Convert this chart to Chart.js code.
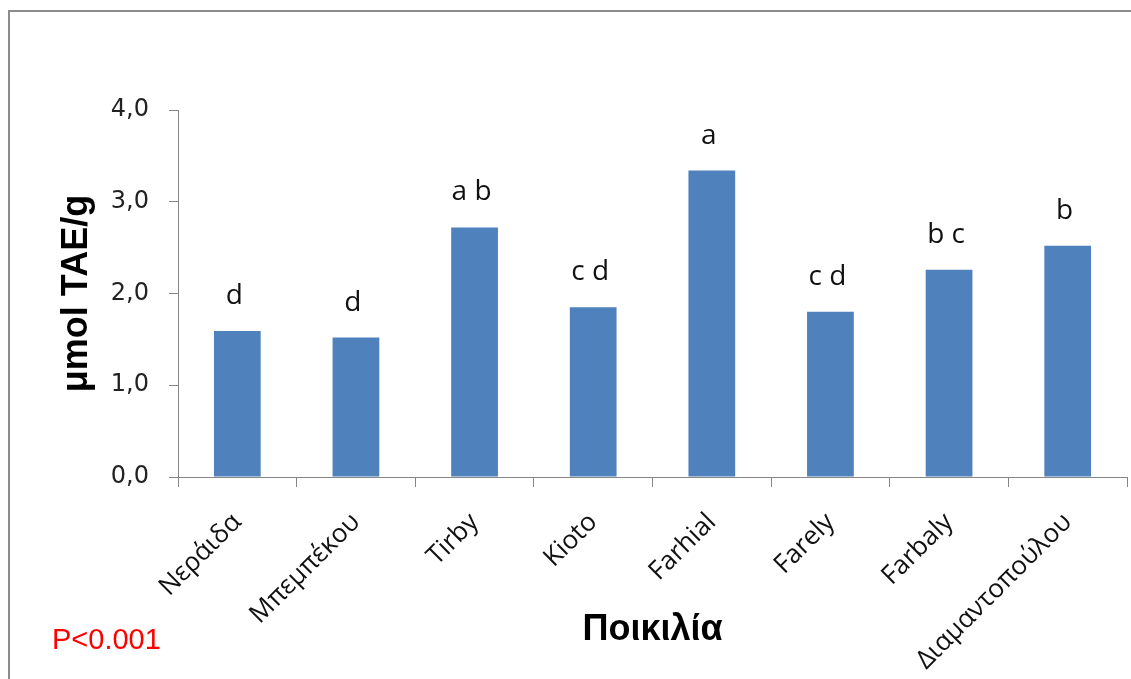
<!DOCTYPE html>
<html>
<head>
<meta charset="utf-8">
<script src="https://cdn.jsdelivr.net/npm/chart.js@4.4.1/dist/chart.umd.min.js"></script>
<style>
  html, body { margin: 0; padding: 0; background: #ffffff; }
  #wrap { position: relative; width: 1131px; height: 679px; overflow: hidden; }
  canvas { display: block; }
</style>
</head>
<body>
<div id="wrap"><canvas id="c" width="1131" height="679"></canvas></div>
<script>
const categories = ['Νεράιδα', 'Μπεμπέκου', 'Tirby', 'Kioto', 'Farhial', 'Farely', 'Farbaly', 'Διαμαντοπούλου'];
const values = [1.59, 1.52, 2.72, 1.85, 3.34, 1.80, 2.26, 2.52];
const groupLetters = ['d', 'd', 'a b', 'c d', 'a', 'c d', 'b c', 'b'];
const yTickLabels = ['0,0', '1,0', '2,0', '3,0', '4,0'];
const yAxisTitle = 'μmol TAE/g';
const xAxisTitle = 'Ποικιλία';
const noteText = 'P<0.001';

const AXIS = '#868686';

const framePlugin = {
  id: 'frame',
  beforeDraw(chart) {
    const ctx = chart.ctx;
    ctx.save();
    ctx.fillStyle = '#ffffff';
    ctx.fillRect(0, 0, chart.width, chart.height);
    ctx.strokeStyle = '#8c8c8c';
    ctx.lineWidth = 2;
    ctx.strokeRect(9, 11, chart.width + 20, chart.height + 20);
    ctx.restore();
  }
};

const lettersPlugin = {
  id: 'letters',
  afterDatasetsDraw(chart) {
    const ctx = chart.ctx;
    const meta = chart.getDatasetMeta(0);
    ctx.save();
    ctx.fillStyle = '#111111';
    ctx.font = '28px "Open Sans"';
    ctx.textAlign = 'center';
    ctx.textBaseline = 'alphabetic';
    meta.data.forEach((bar, i) => {
      ctx.fillText(groupLetters[i], bar.x - 3, bar.y - 27);
    });
    ctx.fillStyle = '#ff0000';
    ctx.font = '29px "Liberation Sans"';
    ctx.textAlign = 'left';
    ctx.fillText(noteText, 52, 649);
    ctx.restore();
  }
};

new Chart(document.getElementById('c'), {
  type: 'bar',
  data: {
    labels: categories,
    datasets: [{
      data: values,
      backgroundColor: '#4f81bd',
      borderWidth: 0,
      barPercentage: 0.394,
      categoryPercentage: 1.0
    }]
  },
  options: {
    responsive: false,
    devicePixelRatio: 1,
    animation: false,
    layout: { padding: { top: 110, right: 4, left: 0, bottom: 0 } },
    plugins: { legend: { display: false }, tooltip: { enabled: false } },
    scales: {
      x: {
        grid: { display: true, drawOnChartArea: false, drawTicks: true, tickLength: 10, color: AXIS, offset: true },
        border: { display: true, color: AXIS, width: 1 },
        ticks: {
          color: '#111111',
          font: { family: 'Open Sans', size: 26 },
          minRotation: 45, maxRotation: 45,
          padding: 20,
          autoSkip: false
        },
        title: {
          display: true, text: xAxisTitle, color: '#000000',
          font: { family: 'Liberation Sans', size: 36, weight: 'bold' },
          padding: { top: 0, bottom: 27 }
        },
        afterFit(scale) { scale.height = 202; }
      },
      y: {
        min: 0, max: 4,
        grid: { display: true, drawOnChartArea: false, drawTicks: true, tickLength: 9, color: AXIS },
        border: { display: true, color: AXIS, width: 1 },
        ticks: {
          stepSize: 1,
          color: '#222222',
          font: { family: 'DejaVu Sans', size: 24 },
          padding: 20,
          callback: (v, i) => yTickLabels[i]
        },
        title: {
          display: true, text: yAxisTitle, color: '#000000',
          font: { family: 'Liberation Sans', size: 36, weight: 'bold' },
          padding: { top: 55, bottom: 0 }
        },
        afterFit(scale) { scale.width = 178; }
      }
    }
  },
  plugins: [framePlugin, lettersPlugin]
});
</script>
</body>
</html>
